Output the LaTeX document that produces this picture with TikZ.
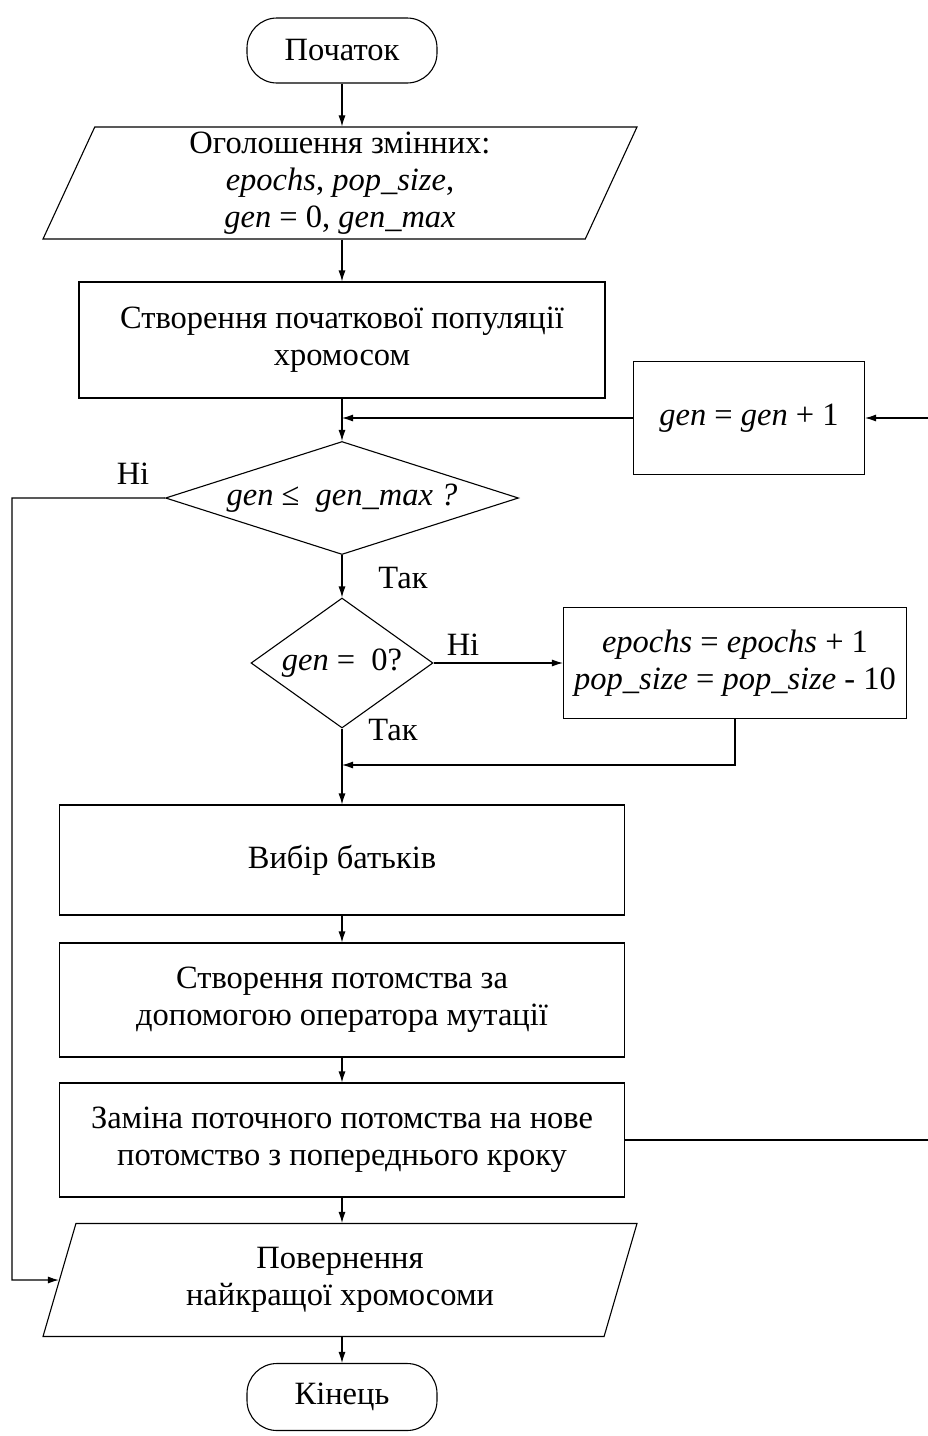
\documentclass[tikz,border=0pt]{standalone}
\usepackage{fontspec}
\setmainfont{Liberation Serif}
\usetikzlibrary{arrows.meta,shapes.geometric}
\begin{document}
\begin{tikzpicture}[x=1pt,y=-1pt,
  font=\fontsize{32.5}{37}\selectfont,
  line width=1.1pt,
  >={Latex[length=11pt,width=7pt]},
  proc/.style={draw, rectangle, align=center, inner sep=0pt},
  term/.style={draw, rectangle, rounded corners=30pt, inner sep=0pt},
  io/.style={draw, trapezium, trapezium left angle=63.2, trapezium right angle=116.8,
    trapezium stretches body, align=center, inner sep=0pt},
  dec/.style={draw, diamond, inner sep=0pt, align=center},
  lbl/.style={inner sep=0pt}]
\useasboundingbox (0,0) rectangle (928,1436);

\node[term, minimum width=190pt, minimum height=65pt] (start) at (342,50.5) {Початок};
\node[io, minimum width=594pt, minimum height=112pt] (io1) at (340,183)
  {Оголошення змінних:\\ \textit{epochs}, \textit{pop\_size},\\ \textit{gen} = 0, \textit{gen\_max}};
\node[proc, minimum width=526pt, minimum height=116pt] (box1) at (342,340)
  {Створення початкової популяції\\хромосом};
\node[proc, minimum width=231pt, minimum height=113pt] (gen) at (749,418)
  {\textit{gen} = \textit{gen} + 1};
\node[dec, aspect=3.12, minimum width=353pt, minimum height=113pt] (dec1) at (342,498)
  {\textit{gen} ≤\ \ \textit{gen\_max ?}};
\node[dec, aspect=1.4, minimum width=182pt, minimum height=130pt] (dec2) at (342,663)
  {\textit{gen} =\ \ 0?};
\node[proc, minimum width=343pt, minimum height=111pt] (ep) at (735,663)
  {\textit{epochs} = \textit{epochs} + 1\\ \textit{pop\_size} = \textit{pop\_size} - 10};
\node[proc, minimum width=565pt, minimum height=110pt] (vyb) at (342,860) {Вибір батьків};
\node[proc, minimum width=565pt, minimum height=114pt] (stv) at (342,1000)
  {Створення потомства за\\допомогою оператора мутації};
\node[proc, minimum width=565pt, minimum height=114pt] (zam) at (342,1140)
  {Заміна поточного потомства на нове\\потомство з попереднього кроку};
\node[io, minimum width=594pt, minimum height=113pt] (io2) at (340,1280)
  {Повернення\\найкращої хромосоми};
\node[term, minimum width=190pt, minimum height=67pt] (end) at (342,1397) {Кінець};

\node[lbl] (no1) at (133,474) {Ні};
\node[lbl] (yes1) at (403,578) {Так};
\node[lbl] (no2) at (463,645) {Ні};
\node[lbl] (yes2) at (393,730) {Так};

\coordinate (j1) at (342,418);
\coordinate (j2) at (342,765);
\coordinate (rb) at (929,1140);
\coordinate (rt) at (929,418);
\coordinate (lt) at (12,498);
\coordinate (lb) at (12,1280);

\draw[->] (start.south) -- (start.south |- io1.north);
\draw[->] (box1.north |- io1.south) -- (box1.north);
\draw[->] (box1.south) -- (dec1.north);
\draw[->] (gen.west) -- (j1);
\draw[->] (zam.east) -- (rb) -- (rt) -- (gen.east);
\draw[->] (dec1.west) -- (lt) -- (lb) -- (io2.west);
\draw[->] (dec1.south) -- (dec2.north);
\draw[->] (dec2.east) -- (ep.west);
\draw[->] (ep.south) |- (j2);
\draw[->] (dec2.south) -- (vyb.north);
\draw[->] (vyb.south) -- (stv.north);
\draw[->] (stv.south) -- (zam.north);
\draw[->] (zam.south) -- (zam.south |- io2.north);
\draw[->] (end.north |- io2.south) -- (end.north);
\end{tikzpicture}
\end{document}
